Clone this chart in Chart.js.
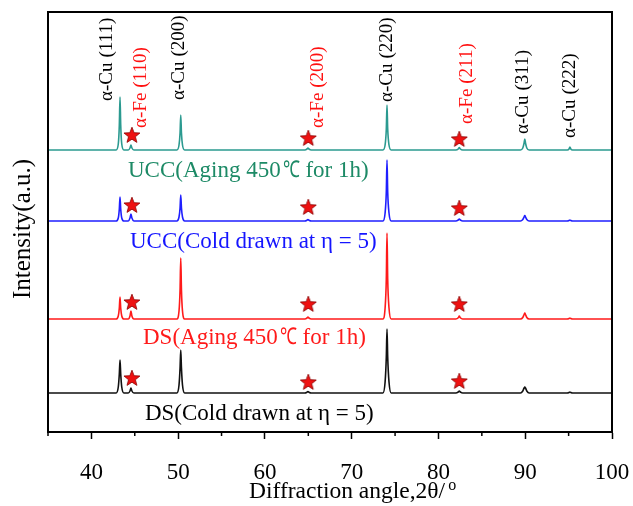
<!DOCTYPE html>
<html lang="en">
<head>
  <meta charset="UTF-8" />
  <title>XRD patterns</title>
  <script src="https://cdn.jsdelivr.net/npm/chart.js"></script>
  <style>
    html, body {
      margin: 0;
      padding: 0;
      background: #fff;
    }
    #wrap {
      width: 633px;
      height: 506px;
    }
  </style>
</head>
<body>
  <div id="wrap"><canvas id="xrd"></canvas></div>

  <script>
    // 2θ sample points (deg), shared by all four patterns
    const angles = [35,
      42.85, 43.1, 43.22, 43.3, 43.38, 43.5, 43.75,
      44.25, 44.45, 44.56, 44.67, 44.9,
      49.85, 50.1, 50.22, 50.3, 50.38, 50.5, 50.75,
      64.6, 64.85, 64.96, 65.07, 65.35,
      73.6, 73.85, 73.99, 74.07, 74.15, 74.3, 74.55,
      82.0, 82.28, 82.4, 82.52, 82.8,
      89.45, 89.72, 89.87, 89.95, 90.03, 90.18, 90.45,
      94.85, 95.05, 95.15, 95.25, 95.45,
      100];

    // intensities above each pattern's own baseline (a.u.)
    const uccAged = [0,
      0, 6, 25, 53, 25, 6, 0,
      0, 2, 5, 2, 0,
      0, 5, 17, 35, 17, 5, 0,
      0, 1, 2, 1, 0,
      0, 5, 21, 45, 21, 5, 0,
      0, 1, 2.5, 1, 0,
      0, 2, 7, 11, 7, 2, 0,
      0, 1, 3, 1, 0,
      0];
    const uccDrawn = [0,
      0, 3, 12, 24, 12, 3, 0,
      0, 3, 7, 3, 0,
      0, 4, 13, 26, 13, 4, 0,
      0, 0.8, 1.5, 0.8, 0,
      0, 8, 29, 61, 29, 8, 0,
      0, 1, 2, 1, 0,
      0, 1.5, 4, 5.5, 4, 1.5, 0,
      0, 0.5, 1, 0.5, 0,
      0];
    const dsAged = [0,
      0, 3, 11, 22, 11, 3, 0,
      0, 3, 8, 3, 0,
      0, 8, 29, 61, 29, 8, 0,
      0, 1, 2, 1, 0,
      0, 11, 40, 86, 40, 11, 0,
      0, 1.2, 3, 1.2, 0,
      0, 1.5, 4.5, 6, 4.5, 1.5, 0,
      0, 0.5, 1, 0.5, 0,
      0];
    const dsDrawn = [0,
      0, 6, 19, 33, 19, 6, 0,
      0, 2, 5, 2, 0,
      0, 8, 25, 43, 25, 8, 0,
      0, 0.8, 1.5, 0.8, 0,
      0, 11, 36, 64, 36, 11, 0,
      0, 1, 2, 1, 0,
      0, 2, 5, 6, 5, 2, 0,
      0, 0.5, 1, 0.5, 0,
      0];

    // vertical stacking offsets
    const offsets = [282, 211, 113, 39];

    // α-Fe markers
    const starAngles = [44.67, 65.0, 82.4];
    const starUccAged = [297, 294, 293];
    const starUccDrawn = [227, 225, 224];
    const starDsAged = [130, 128, 128];
    const starDsDrawn = [54, 50, 51];

    // series names, split round the ℃ sign so it can be set narrower
    const seriesNames = [
      ['UCC(Aging 450', '℃', ' for 1h)'],
      ['UCC(Cold drawn at η = 5)'],
      ['DS(Aging 450', '℃', ' for 1h)'],
      ['DS(Cold drawn at η = 5)']
    ];
    const lineColors = ['#2b9a90', '#1f1fff', '#ff1a1a', '#111111'];
    const nameColors = ['#1d8a66', '#1515ff', '#ff1a1a', '#000000'];

    const peakNames = ['α-Cu (111)', 'α-Fe (110)', 'α-Cu (200)', 'α-Fe (200)', 'α-Cu (220)', 'α-Fe (211)', 'α-Cu (311)', 'α-Cu (222)'];
    const peakIsFe = [false, true, false, true, false, true, false, false];

    const xTicks = [40, 50, 60, 70, 80, 90, 100];
    const xMinorTicks = [35, 45, 55, 65, 75, 85, 95];

    // label placement (layout only): x in deg, bottom end in axis units
    const peakLabelPos = [[41.8, 331], [45.8, 304], [50.1, 332], [66.1, 304], [74.07, 330], [83.3, 308], [89.75, 298], [95.2, 294]];
    const nameLabelPos = [[44.22, 255], [44.45, 184], [45.95, 88], [46.17, 12]];

    const serif = "'Liberation Serif', 'Times New Roman', serif";

    function makeStar() {
      const c = document.createElement('canvas');
      c.width = 20; c.height = 20;
      const g = c.getContext('2d');
      g.beginPath();
      for (let i = 0; i < 10; i++) {
        const r = i % 2 === 0 ? 8.4 : 3.6;
        const a = -Math.PI / 2 + i * Math.PI / 5;
        g.lineTo(10 + r * Math.cos(a), 10.6 + r * Math.sin(a));
      }
      g.closePath();
      g.fillStyle = '#ee1111';
      g.fill();
      g.strokeStyle = '#8a0000';
      g.lineWidth = 0.8;
      g.stroke();
      return c;
    }
    const star = makeStar();

    const patterns = [uccAged, uccDrawn, dsAged, dsDrawn];
    const starSets = [starUccAged, starUccDrawn, starDsAged, starDsDrawn];

    const starPoints = [];
    starSets.forEach(s => s.forEach((v, i) => starPoints.push({ x: starAngles[i], y: v })));

    const datasets = [{
      type: 'scatter',
      data: starPoints,
      pointStyle: star,
      order: -1
    }];
    patterns.forEach((p, k) => {
      datasets.push({
        type: 'line',
        data: angles.map((a, i) => ({ x: a, y: offsets[k] + p[i] })),
        borderColor: lineColors[k],
        borderWidth: 1.6,
        pointRadius: 0,
        cubicInterpolationMode: 'monotone',
        fill: false
      });
    });

    const overlay = {
      id: 'overlay',
      afterDraw(chart) {
        const { ctx, chartArea: a, scales: { x, y } } = chart;
        ctx.save();

        ctx.strokeStyle = '#000';
        ctx.lineWidth = 2;
        ctx.strokeRect(a.left, a.top, a.right - a.left, a.bottom - a.top);

        ctx.lineWidth = 1.5;
        xMinorTicks.forEach(v => {
          const px = x.getPixelForValue(v);
          ctx.beginPath();
          ctx.moveTo(px, a.bottom);
          ctx.lineTo(px, a.bottom + 4);
          ctx.stroke();
        });

        // peak labels
        ctx.font = '18px ' + serif;
        ctx.textAlign = 'left';
        ctx.textBaseline = 'middle';
        peakNames.forEach((t, i) => {
          const px = x.getPixelForValue(peakLabelPos[i][0]);
          const py = y.getPixelForValue(peakLabelPos[i][1]);
          ctx.save();
          ctx.translate(px, py);
          ctx.rotate(-Math.PI / 2);
          ctx.scale(1.06, 1);
          ctx.fillStyle = peakIsFe[i] ? '#ff1010' : '#000';
          ctx.fillText(t, 0, 0);
          ctx.restore();
        });

        // series names
        ctx.textBaseline = 'alphabetic';
        seriesNames.forEach((parts, i) => {
          ctx.fillStyle = nameColors[i];
          let px = x.getPixelForValue(nameLabelPos[i][0]);
          const py = y.getPixelForValue(nameLabelPos[i][1]);
          parts.forEach(t => {
            ctx.font = '23px ' + serif;
            if (t === '℃') {
              const w = ctx.measureText(t).width;
              const k = 17 / w;
              ctx.save();
              ctx.translate(px + 2, py);
              ctx.scale(k, 1);
              ctx.fillText(t, 0, 0);
              ctx.restore();
              px += 19;
            } else {
              ctx.fillText(t, px, py);
              px += ctx.measureText(t).width;
            }
          });
        });

        // axis titles
        ctx.fillStyle = '#000';
        ctx.font = '23.5px ' + serif;
        const xt = 'Diffraction angle,2θ/';
        ctx.fillText(xt, 249, 498);
        const w = ctx.measureText(xt).width;
        ctx.font = '16px ' + serif;
        ctx.fillText('o', 249 + w + 3, 490);

        ctx.save();
        ctx.translate(30, 229);
        ctx.rotate(-Math.PI / 2);
        ctx.font = '25px ' + serif;
        ctx.textAlign = 'center';
        ctx.fillText('Intensity(a.u.)', 0, 0);
        ctx.restore();

        ctx.restore();
      }
    };

    new Chart(document.getElementById('xrd'), {
      type: 'line',
      data: { datasets },
      options: {
        responsive: true,
        maintainAspectRatio: false,
        animation: false,
        layout: { padding: { left: 48, right: 21, top: 12, bottom: 0 } },
        plugins: {
          legend: { display: false },
          tooltip: { enabled: false }
        },
        scales: {
          x: {
            type: 'linear',
            min: 35,
            max: 100,
            afterBuildTicks: s => { s.ticks = xTicks.map(v => ({ value: v })); },
            afterFit: s => { s.height = 74; s.paddingLeft = 0; s.paddingRight = 0; },
            ticks: {
              color: '#000',
              font: { family: serif, size: 23 },
              padding: 20,
              maxRotation: 0
            },
            grid: {
              drawOnChartArea: false,
              tickLength: 7,
              tickWidth: 1.5,
              color: '#000'
            },
            border: { display: true, color: '#000', width: 2 }
          },
          y: {
            display: false,
            min: 0,
            max: 420
          }
        }
      },
      plugins: [overlay]
    });
  </script>
</body>
</html>
